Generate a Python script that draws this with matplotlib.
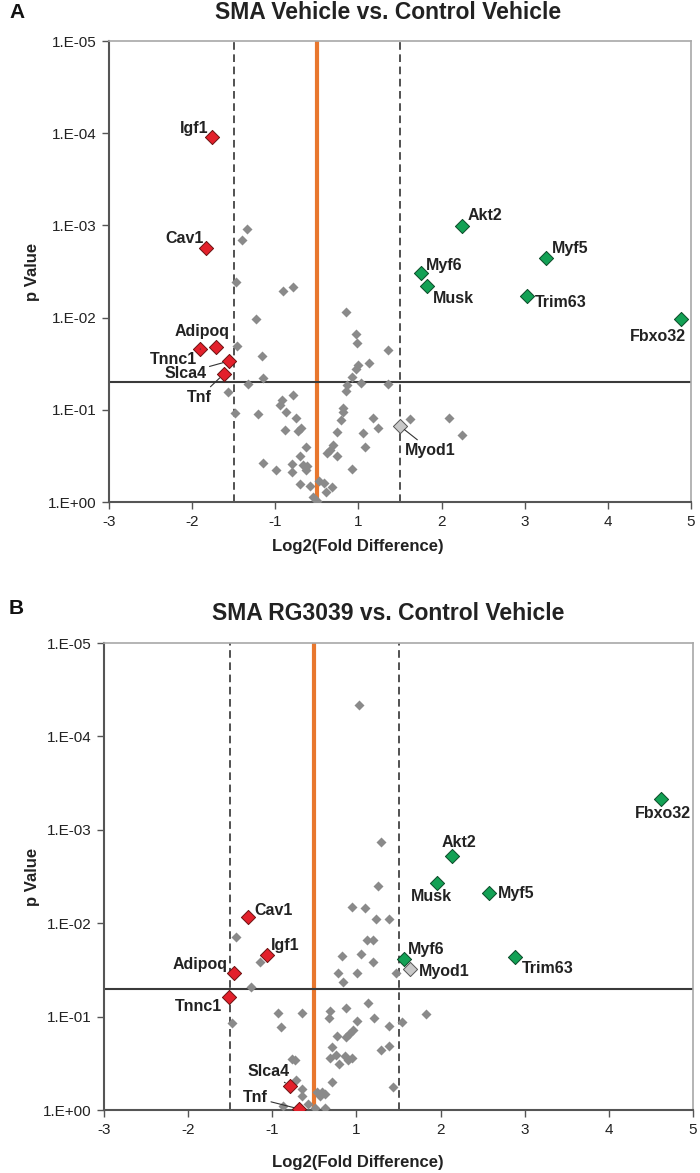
import numpy as np
import matplotlib
matplotlib.use("Agg")
from matplotlib import pyplot as plt
from matplotlib.ticker import FixedLocator, NullLocator

plt.rcParams['font.family'] = ['Liberation Sans', 'DejaVu Sans']

# ---------------- data ----------------
# panel A : SMA Vehicle vs. Control Vehicle (unlabelled genes)
bg_fc_A = [-1.34, -1.40, -1.47, -0.81, -0.57, 0.70, -1.23, 0.94, 0.97, -1.46,
           1.36, -1.16, 1.13, 0.99, 0.94, 0.85, -1.15, 1.03, 1.36, -1.33,
           0.73, 0.70, -1.57, -0.57, -0.84, -0.88, -0.74, -1.48, -1.21, -0.50,
           0.63, 0.63, 0.58, 1.18, 1.62, 2.09, 1.23, 1.06, 0.49, -0.38,
           -0.45, -0.76, 2.24, 1.08, 0.39, 0.32, 0.25, 0.49, -0.26, -0.40,
           -1.15, -0.98, -0.60, -0.60, -0.33, -0.23, -0.26, 0.85, -0.40, -0.16,
           0.05, 0.17, 0.37, 0.22, -0.09, 0.01]
bg_p_A = [1.09e-3, 1.44e-3, 4.11e-3, 5.14e-3, 4.66e-3, 8.69e-3, 0.0104, 0.0151, 0.0188, 0.0203,
          0.0224, 0.0261, 0.0310, 0.0327, 0.0360, 0.0441, 0.0452, 0.0512, 0.0525, 0.0525,
          0.0538, 0.0625, 0.0641, 0.0690, 0.0783, 0.0887, 0.106, 0.108, 0.111, 0.123,
          0.0955, 0.106, 0.129, 0.123, 0.126, 0.123, 0.157, 0.179, 0.174, 0.157,
          0.170, 0.166, 0.188, 0.253, 0.241, 0.273, 0.294, 0.317, 0.253, 0.317,
          0.378, 0.450, 0.387, 0.473, 0.398, 0.410, 0.450, 0.439, 0.638, 0.670,
          0.592, 0.623, 0.687, 0.780, 0.883, 0.97]

genes_A = ['Igf1', 'Cav1', 'Adipoq', 'Tnnc1', 'Slca4', 'Tnf',
           'Akt2', 'Myf5', 'Myf6', 'Musk', 'Trim63', 'Fbxo32', 'Myod1']
gene_fc_A = [-1.76, -1.83, -1.71, -1.90, -1.56, -1.62,
             2.24, 3.26, 1.75, 1.83, 3.03, 4.88, 1.50]
gene_p_A = [1.10e-4, 1.76e-3, 0.0208, 0.0219, 0.0296, 0.0409,
            1.01e-3, 2.26e-3, 3.28e-3, 4.54e-3, 5.83e-3, 0.0104, 0.150]
status_A = ['down'] * 6 + ['up'] * 6 + ['ns']

# panel B : SMA RG3039 vs. Control Vehicle
bg_fc_B = [1.03, 1.29, 1.26, 0.90, 1.10, 1.23, 1.39, -1.43, 1.13, 1.20,
           -1.15, 0.66, 1.06, 1.20, 0.56, 1.01, 0.68, 1.47, -1.25, 1.14,
           0.37, 0.76, 0.35, 1.01, 1.21, 1.54, 1.39, 1.83, -1.48, -0.86,
           -0.79, -0.29, 0.92, 0.83, 0.76, 0.54, 0.42, 0.37, 0.52, 0.59,
           0.73, 0.80, 0.90, 1.39, 1.29, 0.42, 1.44, -0.53, -0.46, -0.43,
           -0.29, -0.29, -0.15, 0.02, 0.26, -0.74, 0.07, 0.18, 0.14, 0.26]
bg_p_B = [4.61e-5, 1.35e-3, 4.00e-3, 6.71e-3, 6.87e-3, 9.02e-3, 9.02e-3, 0.0141, 0.0151, 0.0151,
          0.0260, 0.0224, 0.0214, 0.0260, 0.0341, 0.0341, 0.0427, 0.0341, 0.0482, 0.0714,
          0.0871, 0.0809, 0.104, 0.111, 0.104, 0.114, 0.126, 0.0938, 0.117, 0.0914,
          0.129, 0.0914, 0.139, 0.153, 0.165, 0.161, 0.211, 0.277, 0.258, 0.321,
          0.265, 0.292, 0.277, 0.207, 0.228, 0.501, 0.568, 0.284, 0.292, 0.478,
          0.596, 0.708, 0.863, 0.952, 0.952, 0.906, 0.641, 0.641, 0.708, 0.674]

genes_B = ['Cav1', 'Igf1', 'Adipoq', 'Tnnc1', 'Slca4', 'Tnf',
           'Akt2', 'Musk', 'Myf5', 'Myf6', 'Trim63', 'Fbxo32', 'Myod1']
gene_fc_B = [-1.29, -1.06, -1.45, -1.51, -0.58, -0.36,
             2.14, 1.96, 2.57, 1.57, 2.88, 4.62, 1.64]
gene_p_B = [8.59e-3, 0.0219, 0.0341, 0.0617, 0.553, 0.975,
            1.91e-3, 3.72e-3, 4.75e-3, 0.0242, 0.0230, 4.68e-4, 0.0309]
status_B = ['down'] * 6 + ['up'] * 6 + ['ns']

xticks = [-3, -2, -1, 1, 2, 3, 4, 5]
yticks = [1e-5, 1e-4, 1e-3, 1e-2, 1e-1, 1]
ytick_labels = ['1.E-05', '1.E-04', '1.E-03', '1.E-02', '1.E-01', '1.E+00']
fc_cut = 1.5
p_cut = 0.05

# ---------------- style ----------------
styles = {'down': ('#E3202B', '#6B1010'),
          'up': ('#13A155', '#0A4A28'),
          'ns': ('#C8C8C8', '#555555')}

# label offsets in pixels (dx, dy, ha, leader line)
lab_A = {'Igf1': (-4, 9, 'right', False), 'Cav1': (-3, 10, 'right', False),
         'Adipoq': (-14, 15, 'center', False), 'Tnnc1': (-3, -10, 'right', True),
         'Slca4': (-22, -12, 'right', True), 'Tnf': (-24, -23, 'center', True),
         'Akt2': (6, 10, 'left', False), 'Myf5': (6, 10, 'left', False),
         'Myf6': (5, 8, 'left', False), 'Musk': (5, -12, 'left', False),
         'Trim63': (8, -6, 'left', False), 'Fbxo32': (5, -17, 'right', False),
         'Myod1': (5, -24, 'left', True)}
lab_B = {'Cav1': (6, 7, 'left', False), 'Igf1': (4, 10, 'left', False),
         'Adipoq': (-7, 8, 'right', False), 'Tnnc1': (-7, -9, 'right', False),
         'Slca4': (-21, 14, 'center', True), 'Tnf': (-31, 11, 'right', True),
         'Akt2': (7, 14, 'center', False), 'Musk': (-6, -13, 'center', False),
         'Myf5': (9, 0, 'left', False), 'Myf6': (3, 10, 'left', False),
         'Trim63': (7, -11, 'left', False), 'Fbxo32': (2, -14, 'center', False),
         'Myod1': (9, -3, 'left', False)}


# x axis of the original squeezes -1..1 into a single tick interval
def fwd(v):
    v = np.asarray(v, dtype=float)
    return np.where(v <= -1, v, np.where(v >= 1, v - 1, (v - 1) / 2))


def inv(u):
    u = np.asarray(u, dtype=float)
    return np.where(u <= -1, u, np.where(u >= 0, u + 1, 2 * u + 1))


def volcano(ax, bg_fc, bg_p, genes, fc, p, status, labels):
    ax.set_xscale('function', functions=(fwd, inv))
    ax.set_yscale('log')
    ax.set_xlim(-3, 5)
    ax.set_ylim(1, 1e-5)

    ax.axvline(0, color='#E8772E', lw=3.0, zorder=2)
    ax.axvline(-fc_cut, color='#222222', lw=1.1, ls=(0, (5, 3)), zorder=2)
    ax.axvline(fc_cut, color='#222222', lw=1.1, ls=(0, (5, 3)), zorder=2)
    ax.axhline(p_cut, color='#3a3a3a', lw=1.5, zorder=2)

    ax.scatter(bg_fc, bg_p, marker='D', s=26, color='#8A8A8A', lw=0, zorder=3)
    for g, x, y, st in zip(genes, fc, p, status):
        fcol, ecol = styles[st]
        ax.scatter([x], [y], marker='D', s=52, color=fcol, edgecolor=ecol,
                   lw=0.7, zorder=4)
        dx, dy, ha, leader = labels[g]
        arrow = None
        if leader:
            arrow = dict(arrowstyle='-', color='#333333', lw=0.8, shrinkA=0, shrinkB=4)
        ax.annotate(g, xy=(x, y), xytext=(dx, dy), textcoords='offset pixels',
                    ha=ha, va='center', fontsize=11.5, fontweight='bold',
                    color='#222222', arrowprops=arrow, zorder=5)

    ax.xaxis.set_major_locator(FixedLocator(xticks))
    ax.xaxis.set_minor_locator(NullLocator())
    ax.set_xticklabels([str(t) for t in xticks])
    ax.yaxis.set_major_locator(FixedLocator(yticks))
    ax.yaxis.set_minor_locator(NullLocator())
    ax.set_yticklabels(ytick_labels)
    ax.tick_params(axis='both', labelsize=11, colors='#222222', length=5,
                   width=1.0, direction='out', pad=4)
    ax.tick_params(axis='both', colors='#555555', labelcolor='#222222')

    for side in ['left', 'bottom']:
        ax.spines[side].set_color('#555555')
        ax.spines[side].set_linewidth(1.5)
    for side in ['top', 'right']:
        ax.spines[side].set_color('#A8A8A8')
        ax.spines[side].set_linewidth(1.2)


fig = plt.figure(figsize=(7.0, 11.73), dpi=100)
axA = fig.add_axes([0.1557, 0.5720, 0.8314, 0.3930])
axB = fig.add_axes([0.1486, 0.0537, 0.8414, 0.3981])

volcano(axA, bg_fc_A, bg_p_A, genes_A, gene_fc_A, gene_p_A, status_A, lab_A)
volcano(axB, bg_fc_B, bg_p_B, genes_B, gene_fc_B, gene_p_B, status_B, lab_B)

# titles, panel letters, axis titles
fig.text(0.555, 0.989, 'SMA Vehicle vs. Control Vehicle', ha='center', va='center',
         fontsize=16.5, fontweight='bold', color='#222222')
fig.text(0.555, 0.4774, 'SMA RG3039 vs. Control Vehicle', ha='center', va='center',
         fontsize=16.5, fontweight='bold', color='#222222')
fig.text(0.014, 0.989, 'A', ha='left', va='center', fontsize=15, fontweight='bold', color='#111111')
fig.text(0.012, 0.481, 'B', ha='left', va='center', fontsize=15, fontweight='bold', color='#111111')

for yc in [0.7685, 0.2528]:
    fig.text(33 / 700, yc, 'p Value', rotation=90, ha='center', va='center',
             fontsize=12, fontweight='bold', color='#222222')
fig.text(358 / 700, 1 - 547 / 1173, 'Log2(Fold Difference)', ha='center', va='center',
         fontsize=12, fontweight='bold', color='#222222')
fig.text(358 / 700, 1 - 1163 / 1173, 'Log2(Fold Difference)', ha='center', va='center',
         fontsize=12, fontweight='bold', color='#222222')

fig.savefig('out.png', dpi=100)
